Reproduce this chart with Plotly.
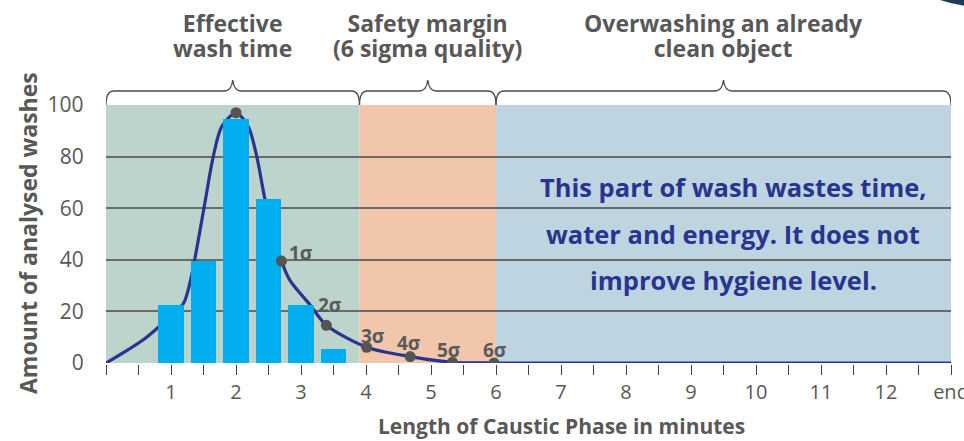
import plotly.graph_objects as go

# ---------------- data ----------------
bar_x = [1.0, 1.5, 2.0, 2.5, 3.0, 3.5]
bar_y = [22.5, 39.5, 94.5, 63.5, 22.5, 5.5]

curve_x = [0, 0.3, 0.6, 0.9, 1.19, 1.3, 1.5, 1.65, 1.78, 2.0, 2.19, 2.32, 2.45,
           2.7, 2.83, 3.14, 3.39, 4.01, 4.68, 5.33, 6.0, 7.0, 13.0]
curve_y = [0, 4.5, 9.5, 16, 23, 32, 59, 80, 91.6, 97, 91.6, 80, 63,
           39.5, 32, 22.5, 14.6, 6.1, 2.5, 0.3, 0, 0, 0]

peak_x = [2.0]
peak_y = [97]

sigma_x = [2.7, 3.39, 4.01, 4.68, 5.33, 5.97]
sigma_y = [39.5, 14.6, 6.1, 2.5, 0.3, 0.0]
sigma_labels = ["1σ", "2σ", "3σ", "4σ", "5σ", "6σ"]

zone_edges = [0, 3.9, 6.0, 13.0]
zone_titles = [["Effective", "wash time"],
               ["Safety margin", "(6 sigma quality)"],
               ["Overwashing an already", "clean object"]]

x_tick_vals = [i * 0.5 for i in range(27)]
x_tick_text = ["" if (v % 1 or v == 0) else ("end" if v == 13 else str(int(v))) for v in x_tick_vals]
y_tick_vals = [0, 20, 40, 60, 80, 100]

note_lines = ["This part of wash wastes time,",
              "water and energy. It does not",
              "improve hygiene level."]
x_title = "Length of Caustic Phase in minutes"
y_title = "Amount of analysed washes"

# ---------------- style ----------------
FONT = "Open Sans"
GRAY = "#585858"
NAVY = "#28348f"
zone_colors = ["#bdd4cc", "#f2c6aa", "#bed4e1"]
sigma_shift = [(19, 8), (4, 20), (6, 11), (-1, 14), (-3, 12), (1, 13)]
note_y_px = [187, 234, 280]

W, H = 964, 441
L, R, T, B = 106, 13, 105, 78
plot_h = H - T - B

fig = go.Figure()

fig.add_trace(go.Scatter(x=curve_x, y=curve_y, mode="lines",
                         line=dict(color=NAVY, width=3.2, shape="spline", smoothing=0.8),
                         hoverinfo="skip", zorder=0, cliponaxis=False))
fig.add_trace(go.Bar(x=bar_x, y=bar_y, width=0.385, marker=dict(color="#00aeef", line=dict(width=0)),
                     zorder=1))
fig.add_trace(go.Scatter(x=peak_x + sigma_x, y=peak_y + sigma_y, mode="markers",
                         marker=dict(color="#545454", size=11), zorder=2, cliponaxis=False))

shapes = []
for i in range(3):
    shapes.append(dict(type="rect", xref="x", yref="y", x0=zone_edges[i], x1=zone_edges[i + 1],
                       y0=0, y1=100, fillcolor=zone_colors[i], line=dict(width=0), layer="below"))


def py(p):
    return (H - B - p) / plot_h


def px(p):
    return (p - L) / (W - L - R)


# braces
yb, yh, yt = py(105), py(91), py(80)
rx = 0.12
for i in range(3):
    a, b = zone_edges[i], zone_edges[i + 1]
    m = (a + b) / 2
    path = (f"M {a},{yb} Q {a},{yh} {a+rx},{yh} L {m-0.13},{yh} "
            f"Q {m-0.02},{yh} {m},{yt} Q {m+0.02},{yh} {m+0.13},{yh} "
            f"L {b-rx},{yh} Q {b},{yh} {b},{yb}")
    shapes.append(dict(type="path", xref="x", yref="paper", path=path,
                       line=dict(color="#4a4a4a", width=1.3)))

# corner decoration
shapes.append(dict(type="path", xref="paper", yref="paper",
                   path=f"M {px(940)},{py(0)} Q {px(952)},{py(4)} {px(966)},{py(6)} L {px(966)},{py(0)} Z",
                   fillcolor="#1f3b55", line=dict(width=0)))

annotations = []
for i in range(3):
    m = (zone_edges[i] + zone_edges[i + 1]) / 2
    txt = "<br>".join(f"<span style='font-size:23px'><b>{t}</b></span>" for t in zone_titles[i])
    annotations.append(dict(text=txt, x=m, y=py(36), xref="x", yref="paper",
                            showarrow=False, xanchor="center", yanchor="middle",
                            font=dict(family=FONT, size=19.5, color=GRAY)))

for xs, ys, lab, (dx, dy) in zip(sigma_x, sigma_y, sigma_labels, sigma_shift):
    annotations.append(dict(text=f"<b>{lab}</b>", x=xs, y=ys, xref="x", yref="y",
                            showarrow=False, xshift=dx, yshift=dy,
                            xanchor="center", yanchor="middle",
                            font=dict(family=FONT, size=19, color="#5a5a5a")))

for txt, ypx in zip(note_lines, note_y_px):
    annotations.append(dict(text=f"<b>{txt}</b>", x=(733 - L) / 65, y=(H - B - ypx) / 2.58,
                            xref="x", yref="y", showarrow=False,
                            xanchor="center", yanchor="middle",
                            font=dict(family=FONT, size=25.5, color=NAVY)))

annotations.append(dict(text=f"<b>{x_title}</b>", x=(561 - L) / 65, y=py(426), xref="x", yref="paper",
                        showarrow=False, xanchor="center", yanchor="middle",
                        font=dict(family=FONT, size=21, color=GRAY)))
annotations.append(dict(text=f"<b>{y_title}</b>", x=px(28), y=py(233), xref="paper", yref="paper",
                        showarrow=False, textangle=-90, xanchor="center", yanchor="middle",
                        font=dict(family=FONT, size=23, color=GRAY)))

fig.update_layout(
    width=W, height=H, margin=dict(l=L, r=R, t=T, b=B, autoexpand=False),
    paper_bgcolor="white", plot_bgcolor="white",
    showlegend=False, shapes=shapes, annotations=annotations, bargap=0,
    font=dict(family=FONT, color=GRAY),
)
fig.update_xaxes(range=[0, 13], tickvals=x_tick_vals, ticktext=x_tick_text,
                 ticks="outside", ticklen=10, tickwidth=1.3, tickcolor="#444",
                 ticklabeloverflow="allow", automargin=False,
                 showline=True, linecolor="#555", linewidth=1.5, showgrid=False, zeroline=False,
                 tickfont=dict(family=FONT, size=20, color=GRAY))
fig.update_yaxes(range=[0, 100], tickvals=y_tick_vals, ticks="", ticklabelstandoff=17,
                 automargin=False,
                 showline=True, mirror=True, linecolor="#555", linewidth=1.3,
                 showgrid=True, gridcolor="#6a6a6a", gridwidth=1.5, zeroline=False,
                 tickfont=dict(family=FONT, size=21, color=GRAY))

fig.write_html("out.html", config={"displayModeBar": False},
               post_script="document.body.style.margin='0px';")
